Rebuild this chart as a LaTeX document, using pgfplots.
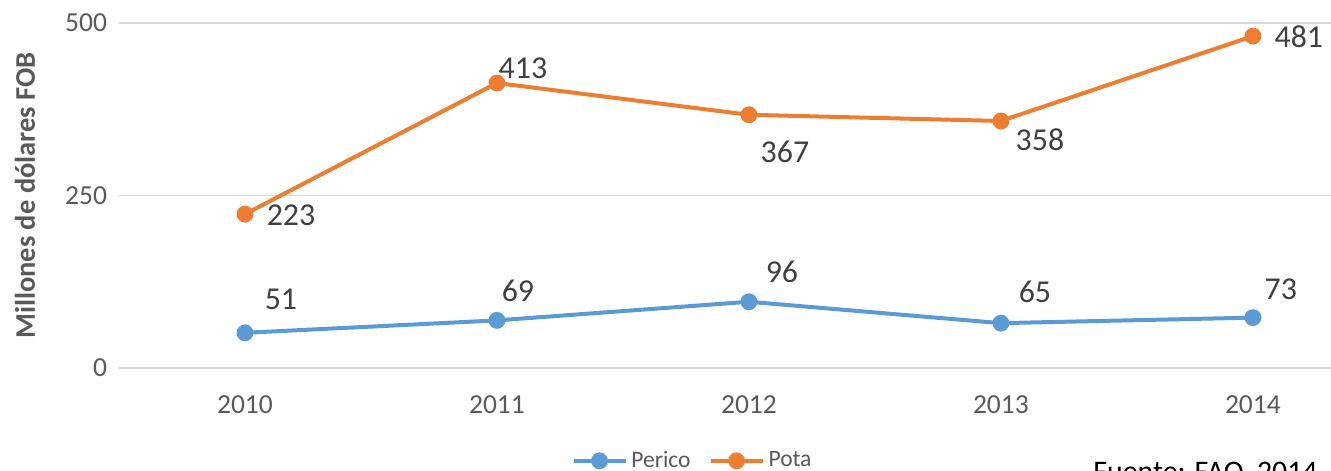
\documentclass[border=0pt]{standalone}
\usepackage{pgfplots}
\usepackage{pgfplotstable}
\pgfplotsset{compat=1.18}
\usepackage{fontspec}
\setmainfont{Carlito}
\definecolor{cblue}{HTML}{5B9BD5}
\definecolor{corange}{HTML}{ED7D31}
\definecolor{cgrid}{HTML}{D9D9D9}
\definecolor{ctick}{HTML}{595959}
\definecolor{clab}{HTML}{404040}
\pgfplotstableread{
x y dx dy
0 51 18 16.5
1 69 10.5 15
2 96 16.5 15
3 65 17 15.5
4 73 14 14
}\perico
\pgfplotstableread{
x y dx dy
0 223 23 -0.5
1 413 13 7.5
2 367 18 -18.5
3 358 19.5 -9.5
4 481 23 -0.5
}\pota
\begin{document}
\begin{tikzpicture}
\begin{axis}[
  at={(59.5bp,51.5bp)}, anchor=south west,
  scale only axis, width=606bp, height=172.5bp,
  xmin=-0.5, xmax=4.31, ymin=0, ymax=500,
  clip=false,
  axis line style={draw=none},
  major tick length=0pt,
  xtick={0,1,2,3,4}, xticklabels={2010,2011,2012,2013,2014},
  ytick={0,250,500},
  ymajorgrids, grid style={cgrid, line width=0.75bp},
  /pgf/number format/assume math mode=true,
  ticklabel style={font=\fontsize{13.8}{16}\selectfont, text=ctick},
  yticklabel style={xshift=-2.5bp},
  xticklabel style={yshift=-10.5bp},
  ylabel={\bfseries Millones de dólares FOB},
  every axis y label/.style={at={(axis description cs:-0.0776,0.5)}, rotate=90, anchor=center,
    font=\fontsize{14.3}{16}\selectfont, text=ctick},
  legend columns=2,
  legend style={draw=none, fill=none, at={(axis description cs:0.474,-0.269)}, anchor=center,
    font=\fontsize{11.8}{13}\selectfont, text=ctick,
    /tikz/every even column/.append style={column sep=7bp}},
  legend image code/.code={\draw[mark repeat=2,mark phase=2] plot coordinates {(0bp,0bp) (13bp,0bp) (26bp,0bp)};},
  nodes near coords,
  visualization depends on={\thisrow{dx} \as \dx},
  visualization depends on={\thisrow{dy} \as \dy},
  every node near coord/.append style={anchor=center, xshift=\dx bp, yshift=\dy bp,
    font=\fontsize{16}{18}\selectfont, text=clab},
]
\addplot[cblue, line width=2bp, mark=*, mark size=3.2bp, mark options={solid}] table[x=x,y=y] {\perico};
\addlegendentry{Perico}
\addplot[corange, line width=2bp, mark=*, mark size=3.2bp, mark options={solid}] table[x=x,y=y] {\pota};
\addlegendentry{Pota}
\end{axis}
\node[anchor=base west, font=\fontsize{15}{18}\selectfont, text=black, inner sep=0pt] at (546.5bp,-5bp) {Fuente: FAO, 2014};
\pgfresetboundingbox
\useasboundingbox (0,0) rectangle (665.5bp,235.5bp);
\end{tikzpicture}
\end{document}
